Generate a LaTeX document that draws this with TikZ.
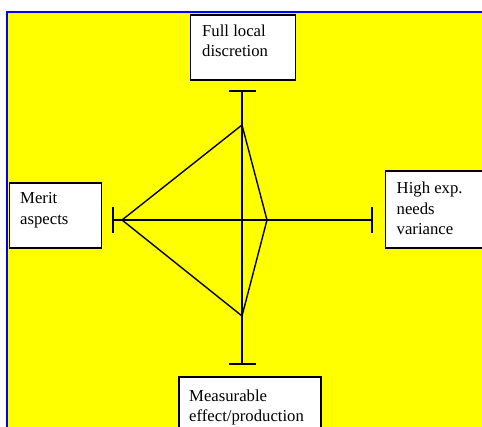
\documentclass[tikz,border=0pt]{standalone}
\usepackage{fontspec}
\setmainfont{Liberation Serif}
\definecolor{bgyellow}{RGB}{255,255,0}
\definecolor{frameblue}{RGB}{0,0,255}
\begin{document}
\begin{tikzpicture}[x=1pt,y=1pt,
  box/.style={draw=black,fill=white,line width=1.6pt,inner sep=0pt,anchor=north west},
  lbl/.style={inner sep=0pt,anchor=base west,align=left,font=\fontsize{16.7}{20.5}\selectfont},
  axis/.style={line width=1.4pt,draw=black},
  kite/.style={line width=1.4pt,draw=black,line join=miter}]
\useasboundingbox (0,0) rectangle (482,-427);
\fill[white] (0,0) rectangle (482,-427);
\fill[bgyellow] (7,-12) rectangle (482,-427);
\draw[frameblue,line width=1.6pt] (7,-427) -- (7,-12) -- (482,-12);
% boxes
\node[box,minimum width=105pt,minimum height=65pt] (topbox) at (189.5,-14) {};
\node[box,minimum width=92pt,minimum height=65pt] (leftbox) at (8.5,-182) {};
\node[box,minimum width=110pt,minimum height=77pt] (rightbox) at (384.5,-170) {};
\node[box,minimum width=142pt,minimum height=60pt] (botbox) at (178,-376) {};
% labels
\node[lbl] (toptxt) at (202,-37) {Full local};
\node[lbl] (toptxt2) at (202,-57) {discretion};
\node[lbl] (lefttxt) at (20,-204) {Merit};
\node[lbl] (lefttxt2) at (20,-225) {aspects};
\node[lbl] (righttxt) at (396.5,-194) {High exp.};
\node[lbl] (righttxt2) at (396.5,-214.5) {needs};
\node[lbl] (righttxt3) at (396.5,-235) {variance};
\node[lbl] (bottxt) at (189,-402) {Measurable};
\node[lbl] (bottxt2) at (189,-422) {effect/production};
% axes
\coordinate (at) at (242,-91);
\coordinate (ab) at (242,-364);
\coordinate (al) at (113,-220);
\coordinate (ar) at (372,-220);
\draw[axis] (at) -- (ab);
\draw[axis] (al) -- (ar);
\draw[axis] ([xshift=-13.5pt]at) -- ([xshift=13.5pt]at);
\draw[axis] ([xshift=-13.5pt]ab) -- ([xshift=13.5pt]ab);
\draw[axis] ([yshift=13pt]al) -- ([yshift=-13pt]al);
\draw[axis] ([yshift=13pt]ar) -- ([yshift=-13pt]ar);
% diamond
\coordinate (dt) at (242,-125);
\coordinate (dr) at (267,-220);
\coordinate (db) at (242,-316);
\coordinate (dl) at (122,-220);
\draw[kite] (dt) -- (dr) -- (db) -- (dl) -- cycle;
\end{tikzpicture}
\end{document}
